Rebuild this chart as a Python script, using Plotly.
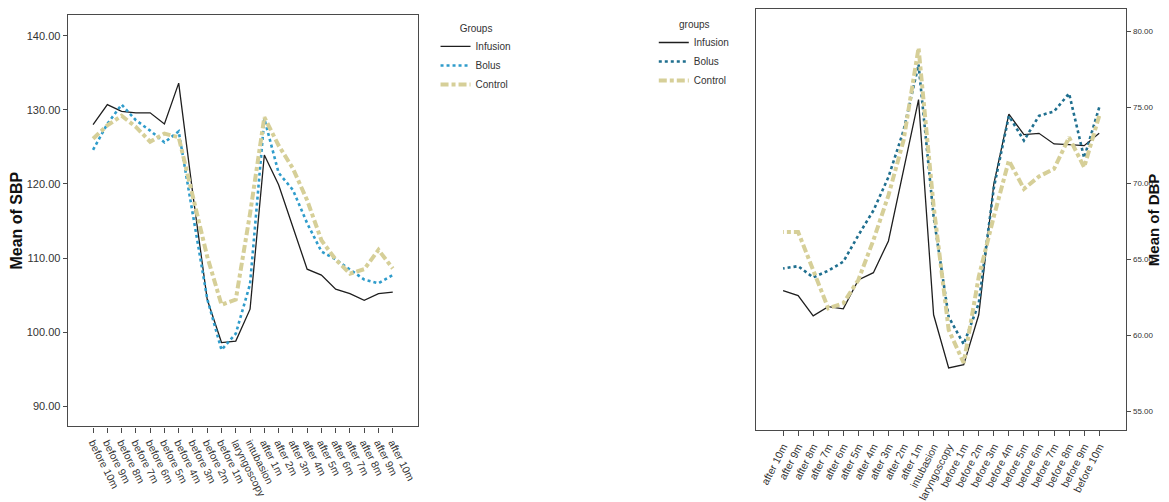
import plotly.graph_objects as go

categories = ["before 10m", "before 9m", "before 8m", "before 7m", "before 6m",
              "before 5m", "before 4m", "before 3m", "before 2m", "before 1m",
              "laryngoscopy", "intubasion", "after 1m", "after 2m", "after 3m",
              "after 4m", "after 5m", "after 6m", "after 7m", "after 8m",
              "after 9m", "after 10m"]

sbp_infusion = [128.0, 130.7, 129.8, 129.6, 129.6, 128.1, 133.6, 118.5, 104.4, 98.6, 98.8,
                103.1, 123.9, 119.9, 114.2, 108.5, 107.7, 105.8, 105.2, 104.3, 105.2, 105.4]
sbp_bolus = [124.6, 128.1, 130.7, 128.6, 127.2, 125.6, 127.1, 115.5, 104.5, 97.6, 99.8,
             106.5, 128.8, 121.5, 119.2, 114.7, 110.9, 109.8, 108.4, 107.1, 106.6, 107.7]
sbp_control = [126.1, 127.9, 129.2, 127.7, 125.7, 126.8, 126.3, 118.0, 110.2, 103.7, 104.4,
               116.0, 129.0, 125.2, 122.1, 117.8, 112.4, 109.8, 107.9, 108.5, 111.1, 108.6]

dbp_infusion = [73.28, 72.47, 72.53, 72.58, 73.28, 73.19, 74.54, 69.96, 61.34, 58.06, 57.84,
                61.34, 75.5, 70.9, 66.2, 64.11, 63.63, 61.73, 61.88, 61.27, 62.6, 62.93]
dbp_bolus = [74.98, 71.66, 75.9, 74.72, 74.43, 72.8, 74.43, 69.7, 62.1, 59.4, 61.2,
             67.8, 77.8, 73.45, 70.4, 68.2, 66.57, 64.83, 64.24, 63.8, 64.54, 64.39]
dbp_control = [74.43, 71.05, 73.01, 70.94, 70.44, 69.63, 71.49, 67.8, 63.85, 58.17, 60.35,
               68.5, 78.9, 72.8, 69.2, 66.25, 63.63, 62.1, 61.77, 64.28, 66.79, 66.79]

sbp_ticks = [90, 100, 110, 120, 130, 140]
dbp_ticks = [55, 60, 65, 70, 75, 80]
group_names = ["Infusion", "Bolus", "Control"]

FONT = "Liberation Sans, Arial, sans-serif"
BLACK = "#1e1e1e"
BLUE_L = "#2f9ccb"
BLUE_R = "#1f6f8f"
TAN = "#d6cf98"
FRAME = "#4a4a4a"
TXT = "#333333"

fig = go.Figure()

# Left panel (SBP)
fig.add_trace(go.Scatter(x=categories, y=sbp_infusion, name=group_names[0], mode="lines",
                         line=dict(color=BLACK, width=1.3), xaxis="x", yaxis="y", legend="legend"))
fig.add_trace(go.Scatter(x=categories, y=sbp_bolus, name=group_names[1], mode="lines",
                         line=dict(color=BLUE_L, width=2.6, dash="dot"), xaxis="x", yaxis="y", legend="legend"))
fig.add_trace(go.Scatter(x=categories, y=sbp_control, name=group_names[2], mode="lines",
                         line=dict(color=TAN, width=4, dash="8px,3px,4px,3px"), xaxis="x", yaxis="y", legend="legend"))

# Right panel (DBP, mirrored layout)
fig.add_trace(go.Scatter(x=categories, y=dbp_infusion, name=group_names[0], mode="lines",
                         line=dict(color=BLACK, width=1.3), xaxis="x2", yaxis="y2", legend="legend2"))
fig.add_trace(go.Scatter(x=categories, y=dbp_bolus, name=group_names[1], mode="lines",
                         line=dict(color=BLUE_R, width=2.6, dash="dot"), xaxis="x2", yaxis="y2", legend="legend2"))
fig.add_trace(go.Scatter(x=categories, y=dbp_control, name=group_names[2], mode="lines",
                         line=dict(color=TAN, width=4, dash="8px,3px,4px,3px"), xaxis="x2", yaxis="y2", legend="legend2"))

# The page body has an 8px default margin, so the figure is sized to fit the
# remaining window and all positions are given relative to that offset.
OFF = 8
W, H = 1169 - OFF, 502 - OFF


def px_x(p):
    return (p - OFF) / W


def px_y(p):
    return 1 - (p - OFF) / H


axis_common = dict(showline=True, linecolor=FRAME, linewidth=1.4, mirror=True,
                   showgrid=False, zeroline=False, ticks="outside", tickcolor=FRAME,
                   tickwidth=1)

fig.update_layout(
    width=W, height=H,
    margin=dict(l=0, r=0, t=0, b=0),
    paper_bgcolor="white", plot_bgcolor="white",
    font=dict(family=FONT, color=TXT, size=11),
    xaxis=dict(domain=[px_x(64), px_x(415)], type="category", categoryorder="array",
               categoryarray=categories, range=[-1.77, 22.74], tickangle=63, ticklen=5,
               tickfont=dict(size=10.5, color=TXT), anchor="y", **axis_common),
    yaxis=dict(domain=[px_y(427), px_y(14)], range=[87.3, 142.8], tickvals=sbp_ticks,
               tickformat=".2f", tickfont=dict(size=11, color=TXT), anchor="x", ticklen=4,
               title=dict(text="<b>Mean of SBP</b>", font=dict(size=16, color="#111111"), standoff=8),
               **axis_common),
    xaxis2=dict(domain=[px_x(755), px_x(1126)], type="category", categoryorder="array",
                categoryarray=categories, range=[22.77, -1.79], tickangle=-63, ticklen=5,
                tickfont=dict(size=10.5, color=TXT), anchor="y2", **axis_common),
    yaxis2=dict(domain=[px_y(431), min(1.0, px_y(8))], range=[53.74, 81.46], tickvals=dbp_ticks,
                tickformat=".2f", side="right", tickfont=dict(size=8, color=TXT), anchor="x2",
                ticklen=4, **axis_common),
    legend=dict(x=px_x(433), y=px_y(18), xanchor="left", yanchor="top",
                bgcolor="rgba(0,0,0,0)", font=dict(size=10, color=TXT),
                title=dict(text="Groups", side="top center", font=dict(size=10, color=TXT)),
                itemwidth=30, tracegroupgap=0),
    legend2=dict(x=px_x(652), y=px_y(14), xanchor="left", yanchor="top",
                 bgcolor="rgba(0,0,0,0)", font=dict(size=10, color=TXT),
                 title=dict(text="groups", side="top center", font=dict(size=10, color=TXT)),
                 itemwidth=30, tracegroupgap=0),
    annotations=[dict(text="<b>Mean of DBP</b>", textangle=-90, xref="paper", yref="paper",
                      x=px_x(1153), y=px_y(220), xanchor="center", yanchor="middle",
                      showarrow=False, font=dict(size=15, color="#111111", family=FONT))],
)

fig.write_html("out.html")
